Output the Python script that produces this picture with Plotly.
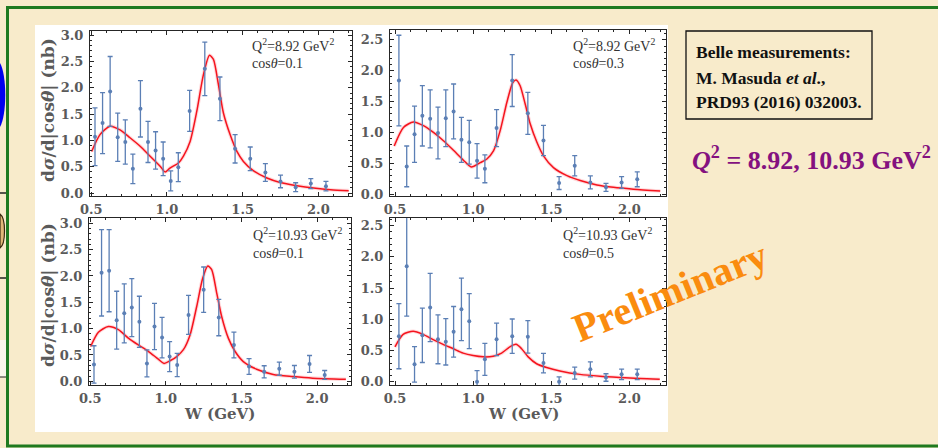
import plotly.graph_objects as go

# ---------------- data ----------------
W_GEV = [0.525, 0.575, 0.625, 0.675, 0.725, 0.775, 0.825, 0.875, 0.925, 0.975,
         1.025, 1.075, 1.15, 1.25, 1.35, 1.45, 1.55, 1.65, 1.75, 1.85, 1.95, 2.05]

# Q2 = 8.92 GeV^2, cos(theta) = 0.1
XS_A = [1.07, 1.33, 1.93, 1.06, 0.97, 0.46, 1.60, 0.97, 0.81, 0.65, 0.23,
        0.49, 1.56, 2.36, 1.79, 0.84, 0.65, 0.39, 0.22, 0.11, 0.18, 0.13]
ERR_A = [0.55, 0.58, 0.665, 0.46, 0.42, 0.28, 0.535, 0.39, 0.355, 0.32, 0.19,
         0.275, 0.39, 0.51, 0.415, 0.27, 0.225, 0.17, 0.12, 0.085, 0.095, 0.09]
FIT_W_A = [0.503, 0.558, 0.624, 0.69, 0.756, 0.823, 0.889, 0.955, 0.988, 1.02,
           1.076, 1.109, 1.153, 1.197, 1.241, 1.281, 1.307, 1.34, 1.373, 1.417,
           1.462, 1.505, 1.57, 1.66, 1.748, 1.858, 1.968, 2.08, 2.2]
FIT_A = [0.79, 1.11, 1.27, 1.20, 1.05, 0.89, 0.70, 0.51, 0.40, 0.475,
         0.57, 0.70, 0.98, 1.55, 2.25, 2.62, 2.54, 2.06, 1.52, 1.11,
         0.79, 0.60, 0.425, 0.285, 0.20, 0.14, 0.095, 0.063, 0.045]

# Q2 = 8.92 GeV^2, cos(theta) = 0.3
XS_B = [1.84, 0.45, 0.97, 1.27, 1.22, 0.99, 1.23, 1.34, 0.88, 0.84, 0.54,
        0.41, 1.07, 1.84, 1.31, 0.87, 0.18, 0.46, 0.19, 0.11, 0.19, 0.24]
ERR_B = [0.735, 0.33, 0.455, 0.49, 0.47, 0.42, 0.46, 0.445, 0.365, 0.355, 0.28,
         0.225, 0.30, 0.42, 0.34, 0.245, 0.105, 0.165, 0.105, 0.065, 0.095, 0.12]
FIT_W_B = [0.495, 0.554, 0.618, 0.682, 0.746, 0.81, 0.874, 0.938, 0.988, 1.045,
           1.088, 1.13, 1.173, 1.216, 1.254, 1.275, 1.30, 1.333, 1.365, 1.408,
           1.45, 1.514, 1.60, 1.685, 1.792, 1.898, 2.026, 2.197]
FIT_B = [0.78, 1.08, 1.17, 1.11, 1.00, 0.865, 0.71, 0.55, 0.44, 0.51,
         0.57, 0.70, 1.03, 1.49, 1.81, 1.85, 1.76, 1.46, 1.14, 0.84,
         0.62, 0.43, 0.30, 0.22, 0.15, 0.11, 0.08, 0.05]

# Q2 = 10.93 GeV^2, cos(theta) = 0.1
XS_C = [0.32, 2.06, 2.10, 1.16, 1.29, 1.40, 1.13, 0.34, 1.04, 0.83, 0.47,
        0.31, 1.26, 1.74, 1.21, 0.69, 0.28, 0.18, 0.24, 0.18, 0.33, 0.12]
ERR_C = [0.355, 0.82, 0.78, 0.55, 0.56, 0.55, 0.485, 0.255, 0.44, 0.385, 0.285,
         0.22, 0.37, 0.43, 0.345, 0.245, 0.15, 0.115, 0.125, 0.12, 0.16, 0.085]
FIT_W_C = [0.503, 0.554, 0.62, 0.686, 0.752, 0.818, 0.884, 0.95, 0.988, 1.027,
           1.072, 1.116, 1.16, 1.204, 1.244, 1.277, 1.303, 1.336, 1.369, 1.413,
           1.457, 1.512, 1.60, 1.71, 1.84, 1.97, 2.19]
FIT_C = [0.66, 0.93, 1.04, 0.98, 0.82, 0.69, 0.57, 0.42, 0.34, 0.39,
         0.47, 0.60, 0.88, 1.42, 1.96, 2.19, 2.12, 1.68, 1.23, 0.82,
         0.57, 0.375, 0.23, 0.13, 0.09, 0.06, 0.04]

# Q2 = 10.93 GeV^2, cos(theta) = 0.5
XS_D = [0.73, 1.85, 0.28, 0.745, 1.19, 0.68, 0.64, 0.80, 1.16, 0.97, 0.0,
        0.36, 0.68, 0.73, 0.72, 0.30, 0.0, 0.14, 0.20, 0.07, 0.12, 0.12]
ERR_D = [0.52, 0.80, 0.285, 0.435, 0.545, 0.39, 0.37, 0.405, 0.50, 0.44, 0.18,
         0.255, 0.26, 0.275, 0.26, 0.155, 0.08, 0.095, 0.12, 0.06, 0.085, 0.085]
FIT_W_D = [0.50, 0.552, 0.616, 0.68, 0.744, 0.808, 0.873, 0.936, 1.0, 1.064,
           1.128, 1.182, 1.235, 1.274, 1.31, 1.352, 1.406, 1.47, 1.555, 1.683,
           1.811, 1.94, 2.066, 2.194]
FIT_D = [0.56, 0.76, 0.81, 0.76, 0.675, 0.60, 0.53, 0.46, 0.42, 0.40,
         0.41, 0.46, 0.56, 0.60, 0.53, 0.40, 0.29, 0.23, 0.175, 0.12,
         0.09, 0.07, 0.053, 0.043]

PANEL_Q2 = ["8.92", "8.92", "10.93", "10.93"]
PANEL_COS = ["0.1", "0.3", "0.1", "0.5"]

# ---------------- styling ----------------
W_PX, H_PX = 938, 448
PARCHMENT = "#F8EBCB"
BLUE = "#5B7FB5"
RED = "#F5141E"
FRAME = "#262626"
TICK_GRAY = "#5a5a5a"


def px(x):
    return x / W_PX


def py(y):
    return 1 - y / H_PX


panels = [
    dict(y=XS_A, e=ERR_A, fw=FIT_W_A, f=FIT_A,
         dom_x=(90, 352), dom_y=(31, 196), xr=[0.492, 2.222], yr=[-0.057, 3.08]),
    dict(y=XS_B, e=ERR_B, fw=FIT_W_B, f=FIT_B,
         dom_x=(390, 666), dom_y=(30, 196), xr=[0.468, 2.234], yr=[-0.03, 2.66]),
    dict(y=XS_C, e=ERR_C, fw=FIT_W_C, f=FIT_C,
         dom_x=(89, 351), dom_y=(218, 385), xr=[0.492, 2.224], yr=[-0.07, 3.10]),
    dict(y=XS_D, e=ERR_D, fw=FIT_W_D, f=FIT_D,
         dom_x=(390, 666), dom_y=(218, 385), xr=[0.468, 2.234], yr=[-0.05, 2.62]),
]

fig = go.Figure()
tick_font = dict(family="DejaVu Serif", size=13, color=TICK_GRAY, weight="bold")
layout_axes = {}

for i, p in enumerate(panels, start=1):
    xa = "x" if i == 1 else f"x{i}"
    ya = "y" if i == 1 else f"y{i}"
    # fitted curve: soft halo + solid line
    fig.add_trace(go.Scatter(x=p["fw"], y=p["f"], mode="lines",
                             line=dict(color="rgba(255,80,90,0.22)", width=3.6, shape="spline", smoothing=0.7),
                             xaxis=xa, yaxis=ya, showlegend=False, hoverinfo="skip"))
    fig.add_trace(go.Scatter(x=p["fw"], y=p["f"], mode="lines",
                             line=dict(color=RED, width=1.5, shape="spline", smoothing=0.7),
                             xaxis=xa, yaxis=ya, showlegend=False))
    # measurements with error bars
    fig.add_trace(go.Scatter(x=W_GEV, y=p["y"], mode="markers",
                             marker=dict(color=BLUE, size=4),
                             error_y=dict(type="data", array=p["e"], color=BLUE,
                                          thickness=1.3, width=2.5),
                             xaxis=xa, yaxis=ya, showlegend=False))

    key_x = "xaxis" if i == 1 else f"xaxis{i}"
    key_y = "yaxis" if i == 1 else f"yaxis{i}"
    layout_axes[key_x] = dict(
        domain=[px(p["dom_x"][0]), px(p["dom_x"][1])], anchor=ya, range=p["xr"],
        showline=True, linecolor=FRAME, linewidth=1, mirror="allticks",
        ticks="inside", ticklen=4, tickcolor=FRAME, tick0=0.5, dtick=0.5,
        tickformat=".1f", showgrid=False, zeroline=False, tickfont=tick_font,
        ticklabelstandoff=1, automargin=False,
        minor=dict(ticks="inside", ticklen=2, tick0=0.5, dtick=0.1, tickcolor=FRAME, showgrid=False),
    )
    layout_axes[key_y] = dict(
        domain=[py(p["dom_y"][1]), py(p["dom_y"][0])], anchor=xa, range=p["yr"],
        showline=True, linecolor=FRAME, linewidth=1, mirror="allticks",
        ticks="inside", ticklen=4, tickcolor=FRAME, tick0=0, dtick=0.5,
        tickformat=".1f", showgrid=False, zeroline=False, tickfont=tick_font,
        ticklabelstandoff=3, automargin=False,
        minor=dict(ticks="inside", ticklen=2, tick0=0, dtick=0.1, tickcolor=FRAME, showgrid=False),
    )

# ---------------- text ----------------
annotations = []
panel_text_pos = [(250, 45, 63), (571, 45, 63), (251, 234, 253), (561, 234, 253)]
for (xl, y1, y2), q2, c in zip(panel_text_pos, PANEL_Q2, PANEL_COS):
    annotations.append(dict(x=px(xl), y=py(y1), xref="paper", yref="paper",
                            text=f"Q<sup>2</sup>={q2} GeV<sup>2</sup>",
                            showarrow=False, xanchor="left", yanchor="middle",
                            font=dict(family="Liberation Serif", size=14, color="#333333")))
    annotations.append(dict(x=px(xl), y=py(y2), xref="paper", yref="paper",
                            text=f"cos<i>θ</i>={c}",
                            showarrow=False, xanchor="left", yanchor="middle",
                            font=dict(family="Liberation Serif", size=14, color="#333333")))

ylab = "d<i>σ</i>/d|cos<i>θ</i>| (nb)"
for yc in (110, 295):
    annotations.append(dict(x=px(48), y=py(yc), xref="paper", yref="paper", text=ylab,
                            textangle=-90, showarrow=False, xanchor="center", yanchor="middle",
                            font=dict(family="DejaVu Serif", size=17, color=TICK_GRAY, weight="bold")))
for xc in (219, 523):
    annotations.append(dict(x=px(xc), y=py(414), xref="paper", yref="paper", text="W (GeV)",
                            showarrow=False, xanchor="center", yanchor="middle",
                            font=dict(family="DejaVu Serif", size=15, color=TICK_GRAY, weight="bold")))

box_lines = ["Belle measurements:", "M. Masuda <i>et al</i>.,", "PRD93 (2016) 032003."]
for yc, t in zip((52, 78, 102.5), box_lines):
    annotations.append(dict(x=px(694), y=py(yc), xref="paper", yref="paper", text=t,
                            showarrow=False, xanchor="left", yanchor="middle",
                            font=dict(family="Liberation Serif", size=17.5, color="#111111", weight="bold")))

annotations.append(dict(x=px(690), y=py(158), xref="paper", yref="paper",
                        text="<i>Q</i><sup>2</sup> = 8.92, 10.93 GeV<sup>2</sup>",
                        showarrow=False, xanchor="left", yanchor="middle",
                        font=dict(family="Liberation Serif", size=26, color="#84117F", weight="bold")))

annotations.append(dict(x=px(670), y=py(291), xref="paper", yref="paper", text="Preliminary",
                        textangle=-22, showarrow=False, xanchor="center", yanchor="middle",
                        font=dict(family="Liberation Serif", size=40, color="#FA8C0F", weight="bold")))

# ---------------- shapes ----------------
def path_px(points):
    d = ""
    for cmd, xs in points:
        d += cmd + " " + " ".join(f"{px(a):.5f},{py(b):.5f}" for a, b in xs) + " "
    return d + "Z"


shapes = [
    # white figure card
    dict(type="rect", xref="paper", yref="paper", x0=px(35), x1=px(668), y0=py(432), y1=py(25),
         fillcolor="white", line=dict(width=0), layer="below"),
    # reference box
    dict(type="rect", xref="paper", yref="paper", x0=px(686), x1=px(872), y0=py(119), y1=py(31),
         fillcolor="rgba(0,0,0,0)", line=dict(color="#111111", width=1.3)),
    # slide frame
    dict(type="rect", xref="paper", yref="paper", x0=px(7.5), x1=px(960), y0=py(446), y1=py(7.5),
         fillcolor="rgba(0,0,0,0)", line=dict(color="#1F7A1F", width=3)),
    # edge of the neighbouring slide
    dict(type="path", xref="paper", yref="paper",
         path=path_px([("M", [(0, 63)]), ("C", [(7, 75), (7, 115), (0, 127)])]),
         fillcolor="#0000F0", line=dict(width=0)),
    dict(type="line", xref="paper", yref="paper", x0=0, x1=px(6), y0=py(193), y1=py(193),
         line=dict(color="#222222", width=1.5)),
    dict(type="line", xref="paper", yref="paper", x0=0, x1=px(6), y0=py(278), y1=py(278),
         line=dict(color="#222222", width=1.5)),
    dict(type="path", xref="paper", yref="paper",
         path=path_px([("M", [(0, 214)]), ("C", [(6, 218), (6, 244), (0, 248)])]),
         fillcolor="#E0B878", line=dict(color="#3a2a10", width=1.2)),
    dict(type="rect", xref="paper", yref="paper", x0=0, x1=px(6), y0=py(377), y1=py(340),
         fillcolor="#FBF6EA", line=dict(width=0)),
    dict(type="line", xref="paper", yref="paper", x0=0, x1=px(6), y0=py(377), y1=py(377),
         line=dict(color="#222222", width=1)),
]

fig.update_layout(
    width=W_PX, height=H_PX, margin=dict(l=0, r=0, t=0, b=0, pad=0, autoexpand=False),
    paper_bgcolor=PARCHMENT, plot_bgcolor="white",
    annotations=annotations, shapes=shapes, showlegend=False,
    **layout_axes,
)

fig.write_html("out.html")
